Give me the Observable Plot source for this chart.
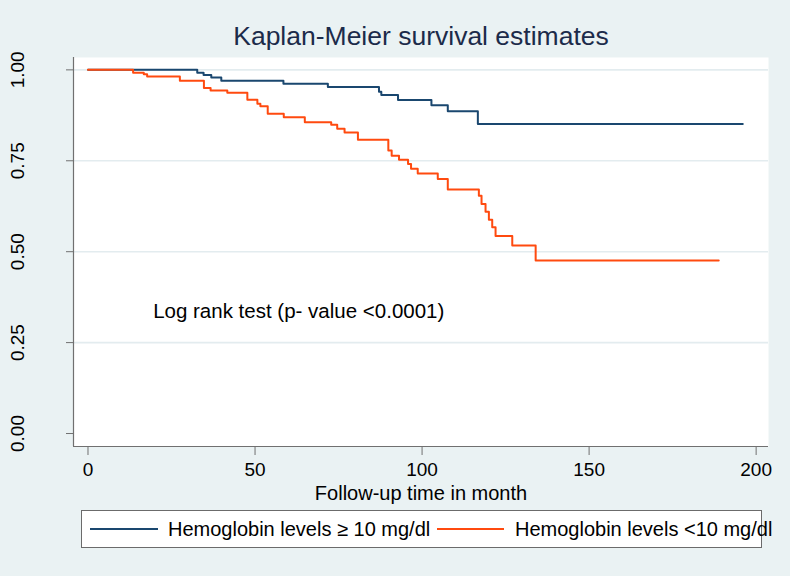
<!DOCTYPE html>
<html>
<head>
<meta charset="utf-8">
<script src="https://cdn.jsdelivr.net/npm/d3@7"></script>
<script src="https://cdn.jsdelivr.net/npm/@observablehq/plot@0.6"></script>
<style>
  html, body { margin: 0; padding: 0; background: #EAF2F3; }
  #wrap { position: relative; width: 790px; height: 576px; background: #EAF2F3; overflow: hidden;
          font-family: "Liberation Sans", Arial, sans-serif; }
  #chart { position: absolute; left: 0; top: 0; }
  #legend { position: absolute; left: 81px; top: 510px; width: 679px; height: 36px;
            background: #fff; border: 1px solid #6b6b6b; }
  .lg-line { position: absolute; top: 17px; height: 2px; }
  .lg-text { position: absolute; top: 7px; font-size: 20px; color: #000; white-space: nowrap; line-height: 22px; }
</style>
</head>
<body>
<div id="wrap">
  <div id="chart"></div>
  <div id="legend"></div>
</div>
<script>
// ---- data ----
const title = "Kaplan-Meier survival estimates";
const xLabel = "Follow-up time in month";
const annotation = "Log rank test (p- value <0.0001)";
const seriesNames = ["Hemoglobin levels \u2265 10 mg/dl", "Hemoglobin levels <10 mg/dl"];
const seriesColors = ["#1A476F", "#FF4A0F"];

const highTime = [0, 32.7, 34.6, 36.9, 39.9, 58.5, 71.8, 87.1, 87.8, 92.8, 102.8, 107.7, 116.7, 196];
const highSurv = [1.0, 0.992, 0.986, 0.979, 0.970, 0.962, 0.953, 0.940, 0.931, 0.917, 0.903, 0.886, 0.851, 0.851];

const lowTime = [0, 13.5, 16.7, 17.7, 27.5, 34.7, 36.7, 41.7, 47.7, 50.7, 51.6, 53.8, 58.6, 64.9, 72.8, 74.6, 76.8, 80.8,
                 89.9, 90.9, 93.1, 95.8, 96.7, 98.7, 104.7, 107.7, 117.0, 117.8, 119.0, 120.0, 121.0, 122.0, 127.0, 134.0, 188.8];
const lowSurv = [1.0, 0.992, 0.988, 0.982, 0.970, 0.950, 0.943, 0.937, 0.918, 0.907, 0.900, 0.879, 0.870, 0.856, 0.849, 0.838, 0.828, 0.808,
                 0.778, 0.764, 0.753, 0.741, 0.728, 0.715, 0.700, 0.671, 0.654, 0.631, 0.610, 0.588, 0.567, 0.543, 0.517, 0.476, 0.476];

const xTicks = [0, 50, 100, 150, 200];
const yTicks = [0, 0.25, 0.5, 0.75, 1.0];
const yGrid = [0.25, 0.5, 0.75, 1.0];
const annotX = 19.5, annotY = 0.335;

// ---- build ----
const high = highTime.map((t, i) => ({t, s: highSurv[i]}));
const low = lowTime.map((t, i) => ({t, s: lowSurv[i]}));
const xDomain = [-4.34, 203.7];
const yDomain = [-0.0357, 1.034];
const fmt = d3.format(".2f");

const plot = Plot.plot({
  width: 790,
  height: 509,
  marginLeft: 73,
  marginRight: 22,
  marginTop: 57,
  marginBottom: 63,
  style: { background: "transparent", fontFamily: "'Liberation Sans', Arial, sans-serif", fontSize: "19px", color: "#000" },
  x: { domain: xDomain },
  y: { domain: yDomain },
  marks: [
    Plot.frame({ fill: "white", stroke: null }),
    Plot.gridY(yGrid, { stroke: "#E3ECEF", strokeOpacity: 1, strokeWidth: 1.6 }),
    Plot.ruleX([xDomain[0]], { stroke: "#707070", strokeWidth: 1.2 }),
    Plot.ruleY([yDomain[0]], { stroke: "#707070", strokeWidth: 1.2 }),
    Plot.axisX({ ticks: xTicks, tickSize: 9, tickPadding: 7, label: null, stroke: "#707070", fill: "#000" }),
    Plot.axisY({ ticks: yTicks, tickSize: 7, tickFormat: () => "", label: null, stroke: "#707070" }),
    Plot.text(yTicks, { y: d => d, text: d => fmt(d), frameAnchor: "left", dx: -55.5, rotate: -90,
                        textAnchor: "middle", lineAnchor: "middle", fontSize: 19, fill: "#000" }),
    Plot.line(high, { x: "t", y: "s", curve: "step-after", stroke: seriesColors[0], strokeWidth: 2 }),
    Plot.line(low, { x: "t", y: "s", curve: "step-after", stroke: seriesColors[1], strokeWidth: 2 }),
    Plot.text([annotation], { x: annotX, y: annotY, text: d => d, textAnchor: "start", lineAnchor: "middle",
                              fontSize: 20.5, fill: "#000" }),
    Plot.text([title], { frameAnchor: "top", dy: -20.5, text: d => d, lineAnchor: "middle",
                         fontSize: 26.5, fill: "#1C2B4A" }),
    Plot.text([xLabel], { frameAnchor: "bottom", dy: 47, text: d => d, lineAnchor: "middle",
                          fontSize: 20, fill: "#000" })
  ]
});
document.getElementById("chart").appendChild(plot);

// ---- legend ----
const legend = document.getElementById("legend");
const lgPos = [{ line: [8, 76], text: 86 }, { line: [355, 422], text: 433 }];
seriesNames.forEach((name, i) => {
  const ln = document.createElement("div");
  ln.className = "lg-line";
  ln.style.left = lgPos[i].line[0] + "px";
  ln.style.width = (lgPos[i].line[1] - lgPos[i].line[0]) + "px";
  ln.style.background = seriesColors[i];
  legend.appendChild(ln);
  const tx = document.createElement("div");
  tx.className = "lg-text";
  tx.style.left = lgPos[i].text + "px";
  tx.textContent = name;
  legend.appendChild(tx);
});
</script>
</body>
</html>
